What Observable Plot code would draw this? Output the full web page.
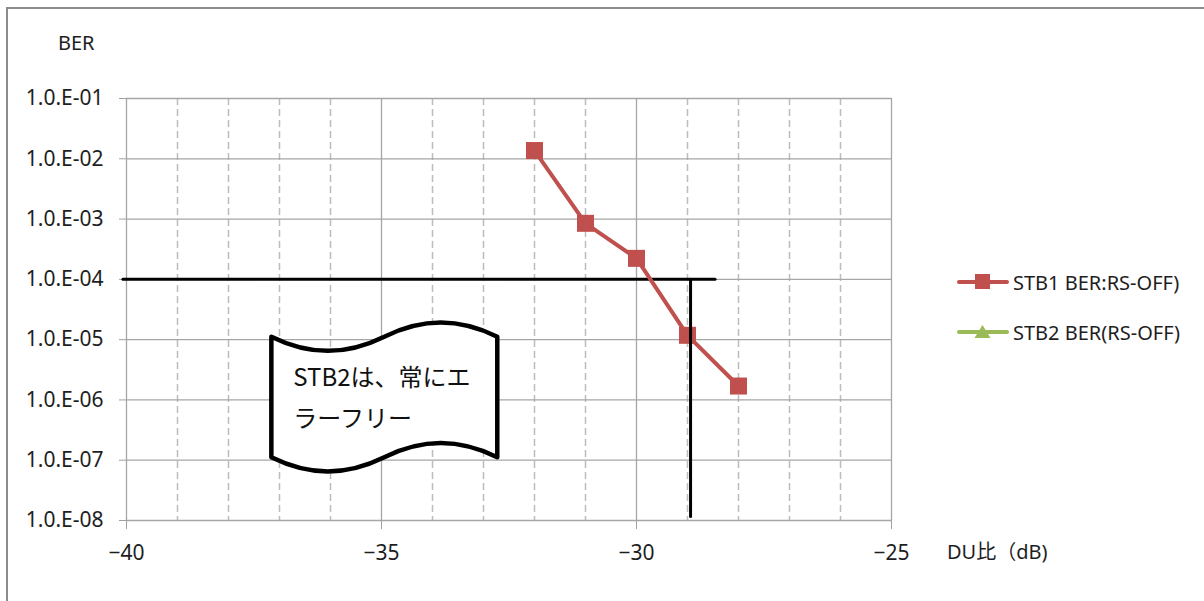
<!DOCTYPE html>
<html><head><meta charset="utf-8">
<script src="https://cdn.jsdelivr.net/npm/d3@7"></script>
<script src="https://cdn.jsdelivr.net/npm/@observablehq/plot@0.6"></script>
<style>
body{margin:0;overflow:hidden;background:#fff;font-family:"Noto Sans","Noto Sans CJK JP",sans-serif;}
#wrap{position:relative;width:1204px;height:601px;overflow:hidden;background:#fff;}
#frame{position:absolute;left:6px;top:7px;width:1400px;height:800px;border:2px solid #8c8c8c;box-sizing:border-box;}
#chart{position:absolute;left:0;top:0;}
.lab{position:absolute;font-size:20px;color:#1e1e1e;white-space:nowrap;line-height:1;}
.leg{position:absolute;display:flex;align-items:center;font-size:20px;color:#1e1e1e;white-space:nowrap;}
.leg svg{margin-right:4px;}
</style></head><body>
<div id="wrap"><div id="frame"></div><div id="chart"></div></div>
<script>
// ---- data ----
const duRatio = [-32, -31, -30, -29, -28];
const stb1Ber = [1.37e-2, 8.5e-4, 2.23e-4, 1.18e-5, 1.7e-6];
const stb2Ber = []; // STB2: always error-free, no points drawn
const seriesNames = ["STB1 BER:RS-OFF)", "STB2 BER(RS-OFF)"];
const seriesColors = ["#c0504d", "#9bbb59"];
const xMajorTicks = [-40, -35, -30, -25];
const xMinorTicks = [-39, -38, -37, -36, -34, -33, -32, -31, -29, -28, -27, -26];
const yTicks = [1e-1, 1e-2, 1e-3, 1e-4, 1e-5, 1e-6, 1e-7, 1e-8];
const yTickLabels = ["1.0.E-01", "1.0.E-02", "1.0.E-03", "1.0.E-04", "1.0.E-05", "1.0.E-06", "1.0.E-07", "1.0.E-08"];
const yLabel = "BER";
const xLabel = "DU比（dB)";
// threshold guide lines
const thresholdBer = 1e-4;
const thresholdHX = [-40.07, -28.46];
const thresholdDu = -28.94;
const thresholdVY = [1e-4, 1.17e-8];
// annotation
const noteText = ["STB2は、常にエ", "ラーフリー"];
const noteX = [-37.15, -32.72];
const noteY = [1.1e-5, 1.1e-7];

// ---- tables ----
const stb1 = duRatio.map((x, i) => ({x, y: stb1Ber[i]}));
const hLine = thresholdHX.map(x => ({x, y: thresholdBer}));
const vLine = thresholdVY.map(y => ({x: thresholdDu, y}));

function noteMark(index, scales) {
  const x0 = scales.x(noteX[0]), x1 = scales.x(noteX[1]);
  const y0 = scales.y(noteY[0]), y1 = scales.y(noteY[1]);
  const w = x1 - x0, A = 14 * 1.35;
  const d = `M${x0},${y0}` +
    `C${x0 + w * 0.17},${y0 + A} ${x0 + w * 0.33},${y0 + A} ${x0 + w / 2},${y0}` +
    `C${x0 + w * 0.67},${y0 - A} ${x0 + w * 0.83},${y0 - A} ${x1},${y0}` +
    `L${x1},${y1}` +
    `C${x0 + w * 0.83},${y1 - A} ${x0 + w * 0.67},${y1 - A} ${x0 + w / 2},${y1}` +
    `C${x0 + w * 0.33},${y1 + A} ${x0 + w * 0.17},${y1 + A} ${x0},${y1}Z`;
  const g = d3.create("svg:g");
  g.append("path").attr("d", d).attr("fill", "#fff").attr("stroke", "#000")
    .attr("stroke-width", 4.5).attr("stroke-linejoin", "round");
  noteText.forEach((t, i) => {
    g.append("text").attr("x", x0 + 22).attr("y", y0 + 49 + i * 41)
      .attr("text-anchor", "start")
      .attr("font-size", 24).attr("fill", "#111")
      .attr("font-family", '"Noto Sans CJK JP","Noto Sans",sans-serif')
      .text(t);
  });
  return g.node();
}

const plot = Plot.plot({
  width: 1204, height: 601,
  marginLeft: 126, marginRight: 313, marginTop: 98, marginBottom: 81,
  style: {fontFamily: '"Noto Sans","Noto Sans CJK JP",sans-serif', fontSize: "21px", color: "#1e1e1e", background: "transparent", overflow: "visible"},
  x: {domain: [-40, -25]},
  y: {type: "log", domain: [1e-8, 1e-1]},
  marks: [
    Plot.ruleX(xMinorTicks, {stroke: "#bcbcbc", strokeWidth: 1.5, strokeDasharray: "7,4"}),
    Plot.ruleX(xMajorTicks, {stroke: "#a6a6a6", strokeWidth: 1.3}),
    Plot.ruleY(yTicks, {stroke: "#a6a6a6", strokeWidth: 1.3}),
    Plot.axisY({ticks: yTicks, tickFormat: (d) => yTickLabels[yTicks.indexOf(d)], tickSize: 7, tickPadding: 16, label: null, stroke: "#a0a0a0", fill: "#1e1e1e", fontSize: 21}),
    Plot.axisX({ticks: xMajorTicks, tickSize: 9, tickPadding: 16, label: null, stroke: "#a0a0a0", fill: "#1e1e1e", fontSize: 21}),
    Plot.line(hLine, {x: "x", y: "y", stroke: "#000", strokeWidth: 3}),
    Plot.line(stb1, {x: "x", y: "y", stroke: seriesColors[0], strokeWidth: 4}),
    Plot.dot(stb1, {x: "x", y: "y", symbol: "square", r: 9.6, fill: seriesColors[0]}),
    Plot.line(vLine, {x: "x", y: "y", stroke: "#000", strokeWidth: 3}),
    noteMark
  ]
});
document.getElementById("chart").appendChild(plot);

const wrap = document.getElementById("wrap");
function addLabel(text, left, top) {
  const el = document.createElement("div");
  el.className = "lab"; el.textContent = text;
  el.style.left = left + "px"; el.style.top = top + "px";
  wrap.appendChild(el);
}
addLabel(yLabel, 58, 33);
addLabel(xLabel, 947, 542);

// legend
const legendTops = [282, 332];
seriesNames.forEach((name, i) => {
  const el = document.createElement("div");
  el.className = "leg";
  el.style.left = "957px"; el.style.top = (legendTops[i] - 15) + "px"; el.style.height = "30px";
  const c = seriesColors[i];
  const marker = i === 0
    ? `<rect x="18" y="7" width="15" height="15" fill="${c}"/>`
    : `<path d="M25.5,8 L33.5,21 L17.5,21 Z" fill="${c}"/>`;
  el.innerHTML = `<svg width="52" height="30"><line x1="2" x2="50" y1="15" y2="15" stroke="${c}" stroke-width="4" stroke-linecap="round"/>${marker}</svg><span>${name}</span>`;
  wrap.appendChild(el);
});
</script>
</body></html>
